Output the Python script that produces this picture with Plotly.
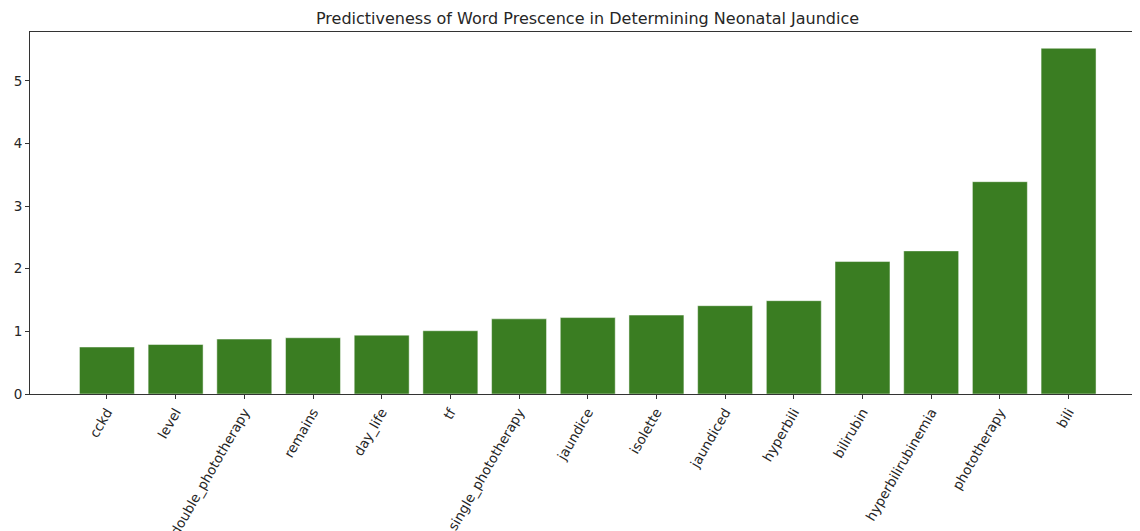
import plotly.graph_objects as go

words = ["cckd", "level", "double_phototherapy", "remains", "day_life", "tf",
         "single_phototherapy", "jaundice", "isolette", "jaundiced", "hyperbili",
         "bilirubin", "hyperbilirubinemia", "phototherapy", "bili"]
scores = [0.75, 0.79, 0.877, 0.898, 0.94, 1.01, 1.20, 1.22, 1.26, 1.41, 1.49,
          2.115, 2.285, 3.39, 5.52]

x_pos = list(range(len(words)))

# page body has an 8px margin, so the figure is offset by (8, 8) in the window
W, H = 1132, 523

fig = go.Figure(go.Bar(
    x=x_pos, y=scores, width=0.8,
    marker=dict(color="#3a7d22", line=dict(color="rgba(255,255,255,0.6)", width=0.8)),
))

fig.update_layout(
    width=W, height=H,
    margin=dict(l=22, r=0, t=24, b=137, autoexpand=False),
    paper_bgcolor="white", plot_bgcolor="white",
    font=dict(family="DejaVu Sans", size=13.5, color="#262626"),
    showlegend=False,
    title=dict(text="Predictiveness of Word Prescence in Determining Neonatal Jaundice",
               x=579.5 / W, xref="container", xanchor="center",
               y=1 - 10 / H, yref="container", yanchor="middle",
               font=dict(family="DejaVu Sans", size=16, color="#262626")),
)
fig.update_xaxes(
    range=[-1.12, 15.04], tickmode="array", tickvals=x_pos, ticktext=words,
    tickangle=-60, ticks="outside", ticklen=4, tickcolor="#333",
    showline=True, linecolor="#333", linewidth=1, mirror=True,
    showgrid=False, zeroline=False, automargin=False,
    tickfont=dict(size=13.5, color="#262626"),
)
fig.update_yaxes(
    range=[0, 5.78], tickvals=[0, 1, 2, 3, 4, 5], ticks="outside", ticklen=4,
    tickcolor="#333", showline=True, linecolor="#333", linewidth=1, mirror=False,
    showgrid=False, zeroline=False, automargin=False,
    tickfont=dict(size=13.5, color="#262626"),
)

fig.write_html("out.html")
